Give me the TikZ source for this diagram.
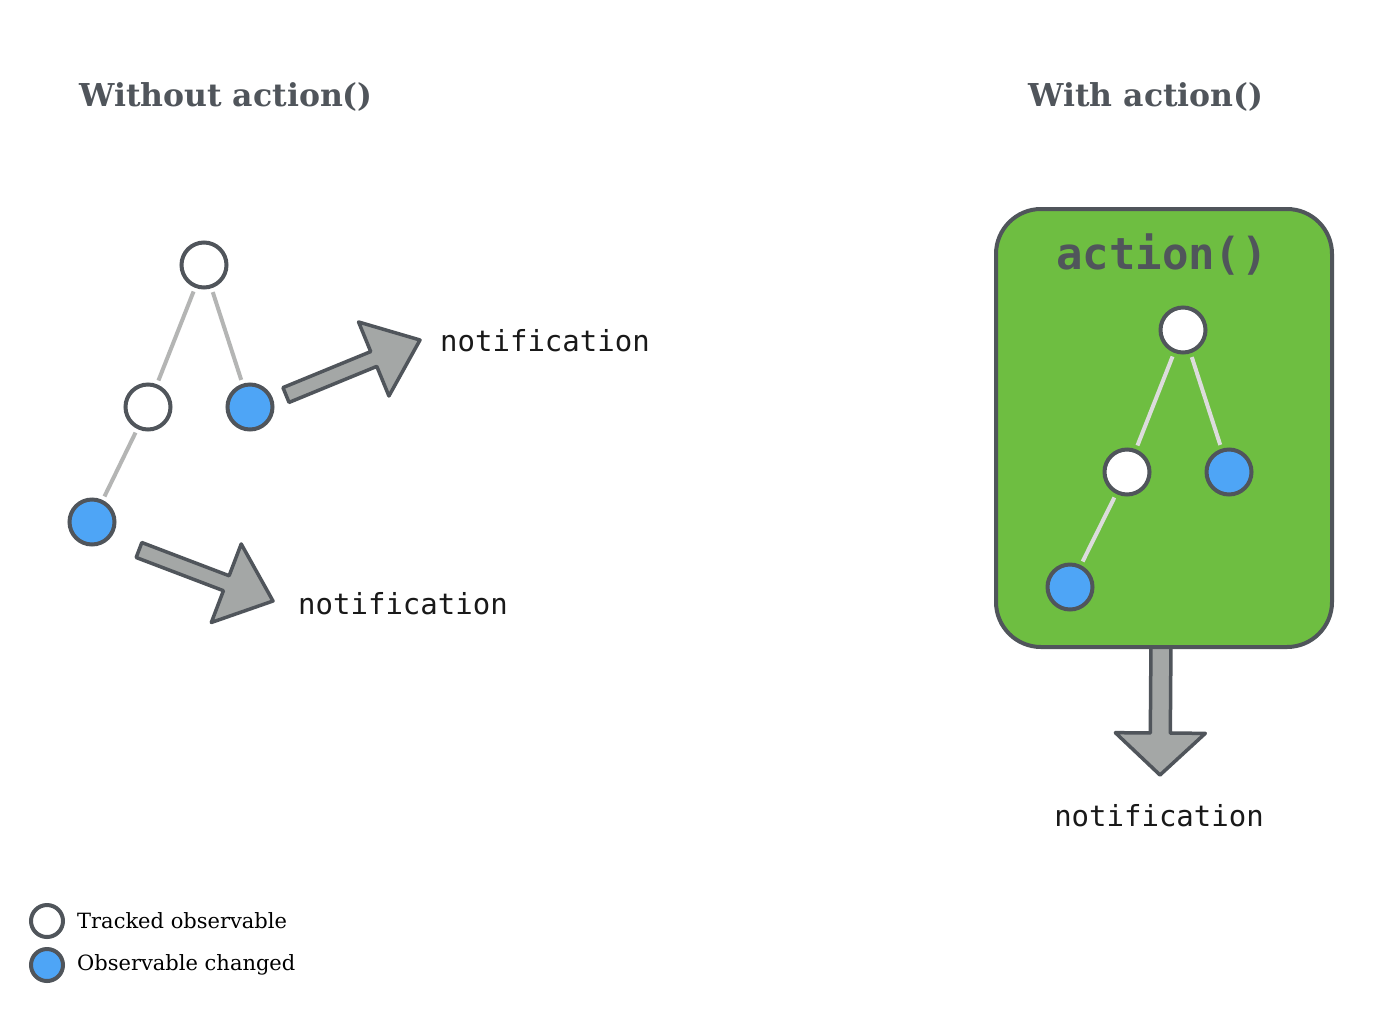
\documentclass[tikz,border=0pt]{standalone}
\usepackage{fontspec}
\setmainfont{DejaVu Serif}
\setmonofont{DejaVu Sans Mono}
\usetikzlibrary{calc}
\definecolor{ink}{HTML}{50555B}
\definecolor{obsblue}{HTML}{4EA5F6}
\definecolor{boxgreen}{HTML}{6EBE41}
\definecolor{arrowgray}{HTML}{A4A7A6}
\definecolor{edgegray}{HTML}{B4B5B4}
\definecolor{edgelight}{HTML}{DCDCDC}
\newcommand{\blockarrow}[5]{%
  \coordinate (neck) at ($(#2)!#5!(#1)$);
  \draw[blockarr] ($(#1)!#3!90:(#2)$) -- ($(neck)!#3!90:(#2)$) -- ($(neck)!#4!90:(#2)$) -- (#2)
    -- ($(neck)!#4!-90:(#2)$) -- ($(neck)!#3!-90:(#2)$) -- ($(#1)!#3!-90:(#2)$) -- cycle;}
\tikzset{
  obs/.style={circle, draw=ink, line width=4pt, minimum size=45pt, inner sep=0pt},
  tracked/.style={obs, fill=white},
  changed/.style={obs, fill=obsblue},
  legobs/.style={circle, draw=ink, line width=4pt, minimum size=32pt, inner sep=0pt},
  link/.style={draw=edgegray, line width=4pt, shorten <=4pt, shorten >=4pt},
  linklight/.style={draw=edgelight, line width=4pt, shorten <=4pt, shorten >=4pt},
  blockarr/.style={draw=ink, fill=arrowgray, line width=3.5pt, line join=round},
  titletext/.style={text=ink, font=\fontsize{31.5}{36}\selectfont\bfseries, inner sep=0pt},
  notetext/.style={text=black!90, font=\ttfamily\fontsize{29}{34}\selectfont, inner sep=0pt},
  legtext/.style={text=black, font=\fontsize{21}{24}\selectfont, inner sep=0pt, anchor=west},
  actbox/.style={draw=ink, fill=boxgreen, line width=4pt, rounded corners=45pt, minimum width=336pt, minimum height=438pt},
  acttext/.style={text=ink, font=\ttfamily\bfseries\fontsize{44}{50}\selectfont, inner sep=0pt}
}
\begin{document}
\begin{tikzpicture}[x=1pt,y=-1pt]
\useasboundingbox[fill=white] (0,0) rectangle (1386,1010);

% titles
\node[titletext] (t1) at (226,97) {Without action()};
\node[titletext] (t2) at (1146,97) {With action()};

% left tree
\node[tracked] (a1) at (204,265) {};
\node[tracked] (b1) at (148,407) {};
\node[changed] (c1) at (250,407) {};
\node[changed] (d1) at (92,522) {};
\draw[link] (a1) -- (b1);
\draw[link] (a1) -- (c1);
\draw[link] (b1) -- (d1);

\node[notetext] (n1) at (545,341) {notification};
\node[notetext] (n2) at (403,604) {notification};
\coordinate (u0) at (286,395);
\coordinate (u1) at (420,340);
\coordinate (l0) at (139,550);
\coordinate (l1) at (273,601);
\blockarrow{u0}{u1}{8pt}{40pt}{50pt}
\blockarrow{l0}{l1}{8pt}{42pt}{50pt}

% right side
\node[notetext] (n3) at (1159,816) {notification};
\coordinate (dtail) at (1161,640);
\coordinate (dtip) at (1160,775);
\blockarrow{dtail}{dtip}{10pt}{45pt}{42pt}

\node[actbox] (box) at (1164,428) {};
\node[acttext] (act) at (1162,255) {action()};
\node[tracked] (a2) at (1183,330) {};
\node[tracked] (b2) at (1127,472) {};
\node[changed] (c2) at (1229,472) {};
\node[changed] (d2) at (1070,587) {};
\draw[linklight] (a2) -- (b2);
\draw[linklight] (a2) -- (c2);
\draw[linklight] (b2) -- (d2);

% legend
\node[legobs, fill=white] (k1) at (47,921) {};
\node[legobs, fill=obsblue] (k2) at (47,965) {};
\node[legtext] (k1t) at (77,921) {Tracked observable};
\node[legtext] (k2t) at (77,965) {Observable changed};
\end{tikzpicture}
\end{document}
